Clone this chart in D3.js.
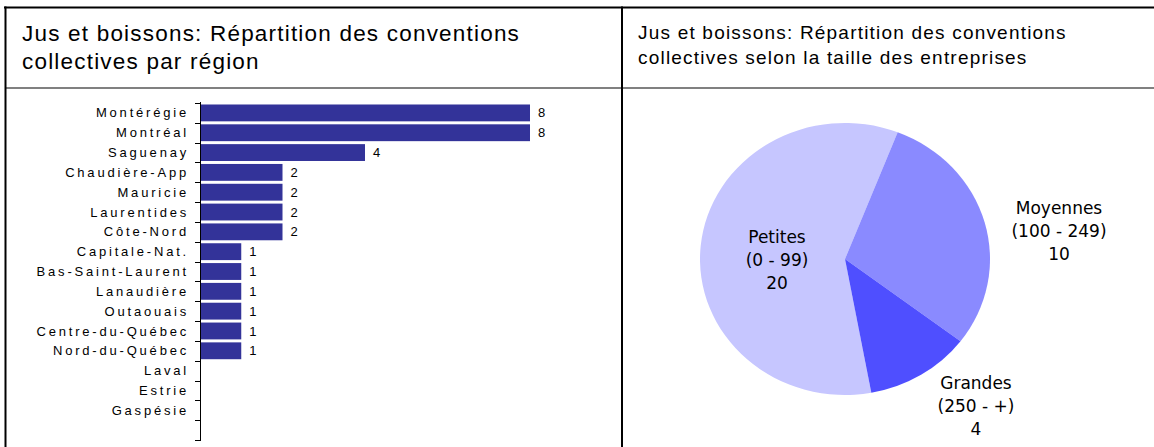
<!DOCTYPE html>
<html><head><meta charset="utf-8">
<script src="https://cdn.jsdelivr.net/npm/d3@7"></script>
<style>body{margin:0;background:#fff}svg{display:block}</style>
</head><body>
<svg id="c" width="1154" height="447"></svg>
<script>
// ---- data ----
const regions = ["Montérégie","Montréal","Saguenay","Chaudière-App","Mauricie","Laurentides","Côte-Nord","Capitale-Nat.","Bas-Saint-Laurent","Lanaudière","Outaouais","Centre-du-Québec","Nord-du-Québec","Laval","Estrie","Gaspésie",""];
const regionValues = [8,8,4,2,2,2,2,1,1,1,1,1,1,0,0,0,null];
const sizeCategories = ["Petites","Moyennes","Grandes"];
const sizeRanges = ["(0 - 99)","(100 - 249)","(250 - +)"];
const sizeValues = [20,10,4];
const titleLeft = ["Jus et boissons: Répartition des conventions","collectives par région"];
const titleRight = ["Jus et boissons: Répartition des conventions","collectives selon la taille des entreprises"];

const svg = d3.select("#c");

// ---- frame ----
svg.append("line").attr("x1",5).attr("x2",1154).attr("y1",88).attr("y2",88).attr("stroke","#808080").attr("stroke-width",2);
svg.append("line").attr("x1",4).attr("x2",1154).attr("y1",7.5).attr("y2",7.5).attr("stroke","#000").attr("stroke-width",2);
svg.append("line").attr("x1",5.5).attr("x2",5.5).attr("y1",6.5).attr("y2",447).attr("stroke","#000").attr("stroke-width",2);
svg.append("line").attr("x1",622).attr("x2",622).attr("y1",6.5).attr("y2",447).attr("stroke","#000").attr("stroke-width",2);

// ---- titles ----
svg.append("text").attr("font-family","Liberation Sans, Arial, sans-serif").attr("font-size",22.5).attr("letter-spacing",1.2)
  .selectAll("tspan").data(titleLeft).join("tspan").attr("x",22).attr("y",(d,i)=>41+i*28).text(d=>d);
svg.append("text").attr("font-family","Liberation Sans, Arial, sans-serif").attr("font-size",19).attr("letter-spacing",1.2)
  .selectAll("tspan").data(titleRight).join("tspan").attr("x",638).attr("y",(d,i)=>39+i*25).text(d=>d);

// ---- bar chart ----
const x = d3.scaleLinear().domain([0,8]).range([200,530]);
const y = d3.scaleBand().domain(regions.map((d,i)=>i)).range([103,440]).paddingInner(0.15).paddingOuter(0.075);
const gb = svg.append("g");
const barData = regionValues.map((v,i)=>({v,i})).filter(d=>d.v);
gb.selectAll("rect").data(barData).join("rect")
  .attr("x",x(0)).attr("y",d=>y(d.i)).attr("width",d=>x(d.v)-x(0)).attr("height",y.bandwidth()).attr("fill","#333399");
gb.selectAll("text.v").data(barData).join("text").attr("class","v")
  .attr("x",d=>x(d.v)+8).attr("y",d=>y(d.i)+y.bandwidth()/2).attr("dy","0.35em")
  .attr("font-family","Liberation Sans, Arial, sans-serif").attr("font-size",13).text(d=>d.v);
// axis
const ticks = d3.range(regions.length+1).map(i=>103+i*(440-103)/regions.length);
gb.append("line").attr("x1",200.5).attr("x2",200.5).attr("y1",102).attr("y2",441).attr("stroke","#000");
gb.selectAll("line.t").data(ticks).join("line").attr("class","t")
  .attr("x1",195).attr("x2",200).attr("y1",d=>Math.round(d)+0.5).attr("y2",d=>Math.round(d)+0.5).attr("stroke","#000");
gb.selectAll("text.l").data(regions).join("text").attr("class","l")
  .attr("x",189).attr("y",(d,i)=>y(i)+y.bandwidth()/2).attr("dy","0.35em")
  .attr("text-anchor","end").attr("font-family","Liberation Sans, Arial, sans-serif")
  .attr("font-size",13).attr("letter-spacing",2.8).text(d=>d);

// ---- pie ----
const colors = ["#C6C6FF","#8A8AFF","#4F4FFF"];
const cx = 845, cy = 259, rx = 145, ry = 136;
const total = d3.sum(sizeValues);
const start = (21.3/360)*2*Math.PI - (sizeValues[0]/total)*2*Math.PI;
const pie = d3.pie().sort(null).startAngle(start).endAngle(start+2*Math.PI);
const arcs = pie(sizeValues);
const arc = d3.arc().innerRadius(0).outerRadius(rx);
const gp = svg.append("g").attr("transform",`translate(${cx},${cy}) scale(1,${ry/rx})`);
gp.selectAll("path").data(arcs).join("path").attr("d",arc).attr("fill",(d,i)=>colors[i]);
// labels (layout offsets relative to pie centre)
const labelPos = [[-68,-16],[214,-45],[131,130]];
const gl = svg.append("g").attr("font-family","DejaVu Sans, Verdana, sans-serif").attr("font-size",17).attr("text-anchor","middle").attr("fill","#000");
sizeCategories.forEach((c,i)=>{
  const t = gl.append("text");
  [c,sizeRanges[i],String(sizeValues[i])].forEach((s,j)=>{
    t.append("tspan").attr("x",cx+labelPos[i][0]).attr("y",cy+labelPos[i][1]+j*23).text(s);
  });
});
</script>
</body></html>
